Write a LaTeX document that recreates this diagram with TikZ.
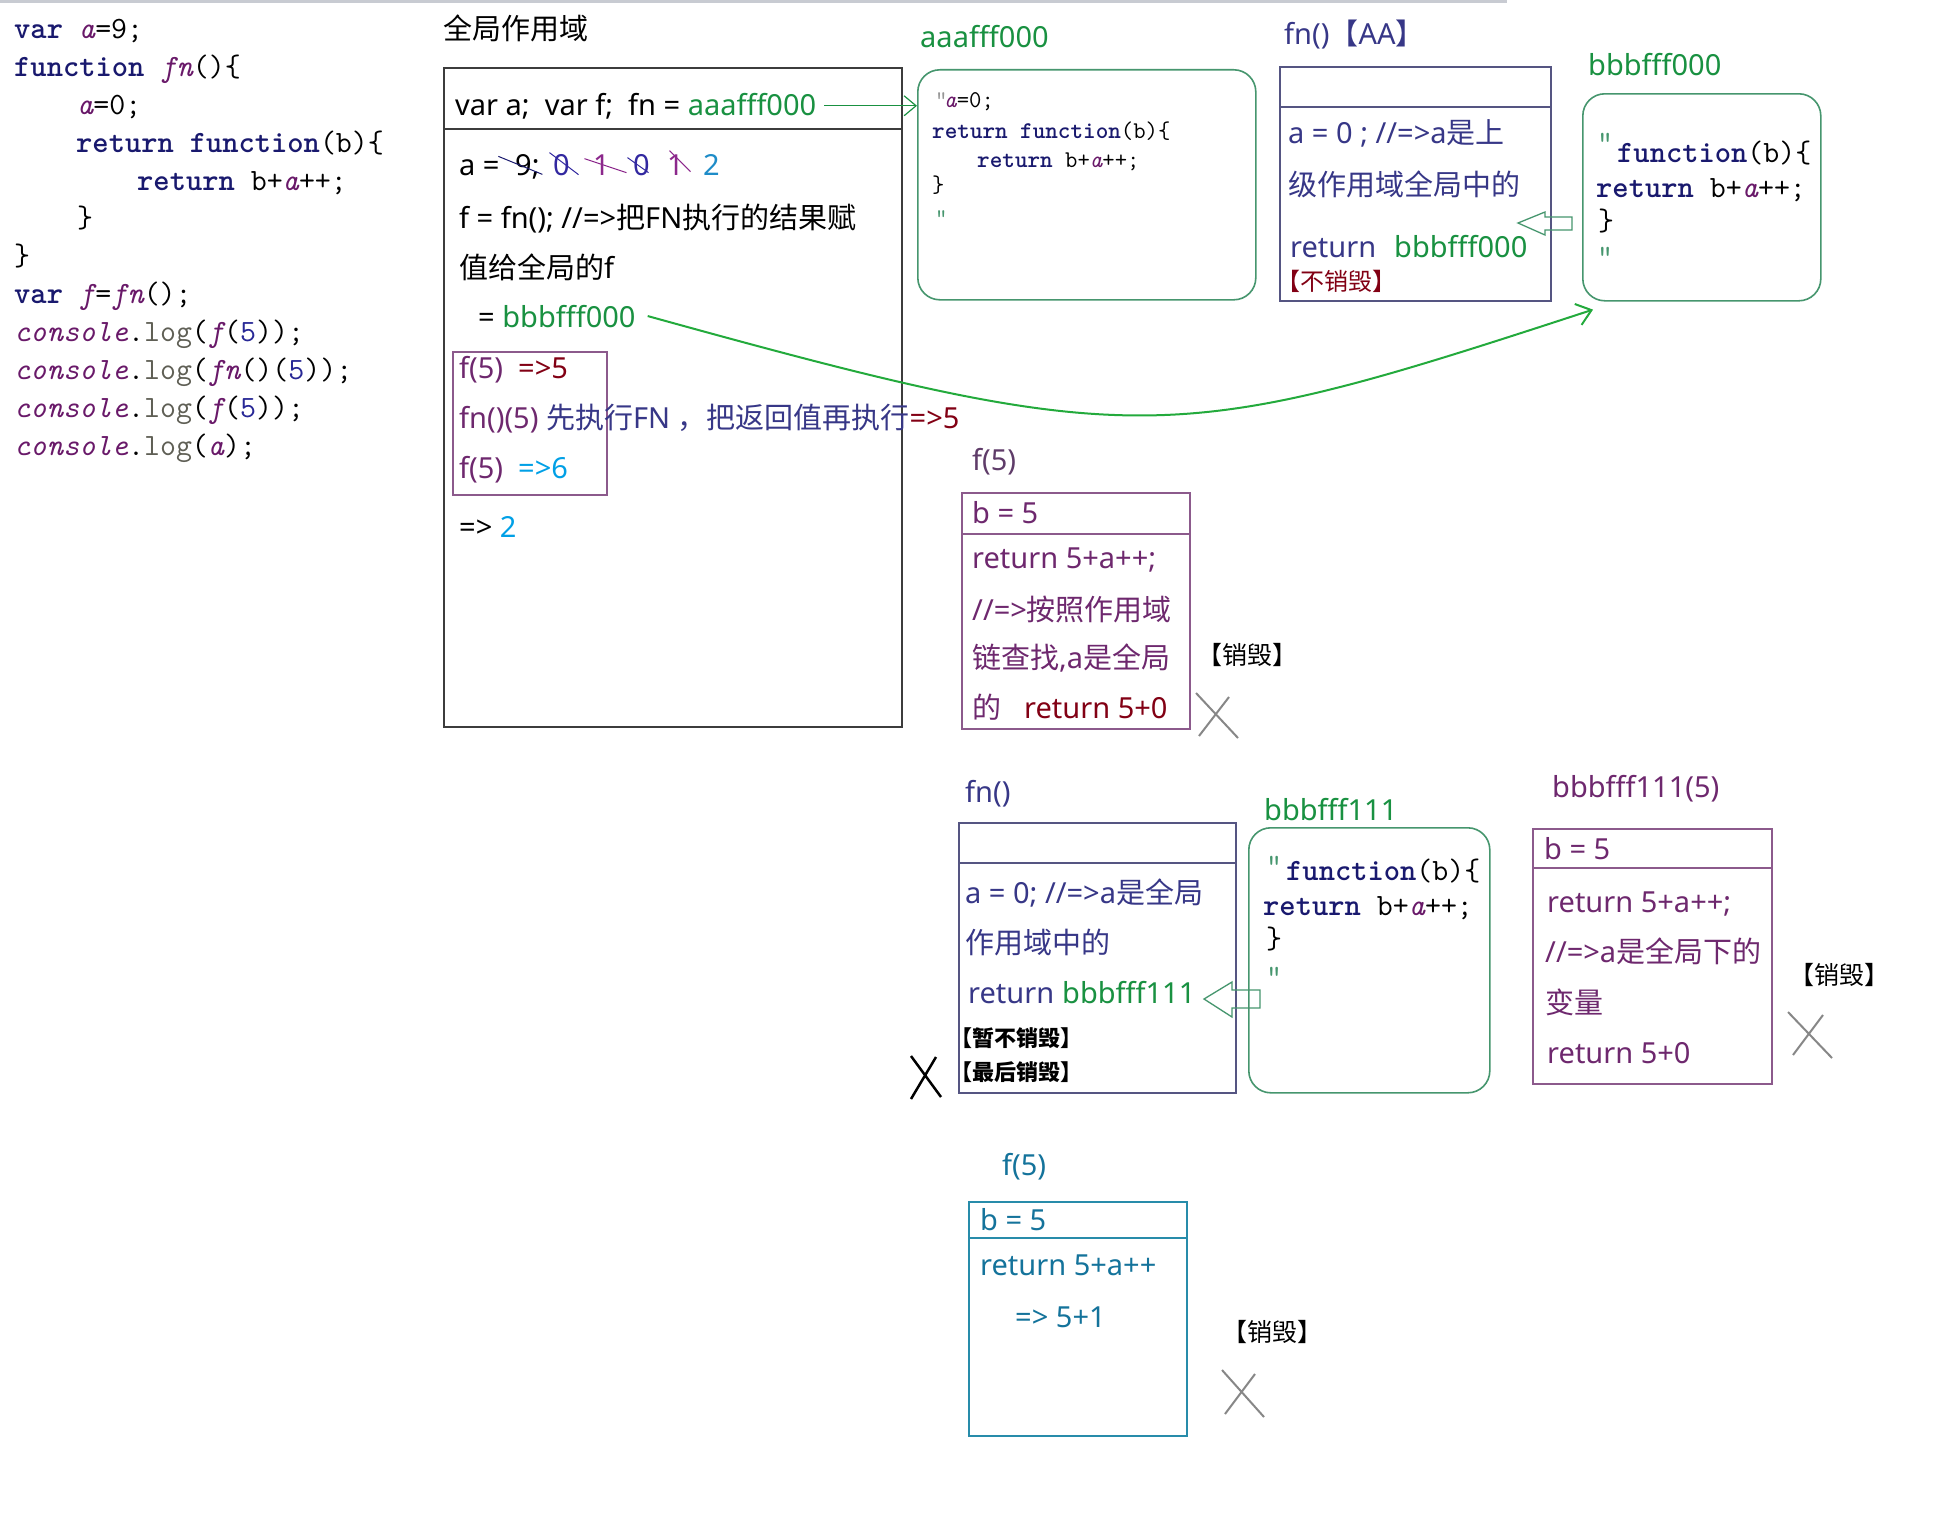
\documentclass[tikz,border=0pt]{standalone}
\usepackage{fontspec}
\usetikzlibrary{arrows.meta,calc}
\setmainfont{Noto Sans}
\newfontfamily\cjk{Noto Sans CJK SC}

\definecolor{kwnavy}{RGB}{25,25,110}
\definecolor{ivpurple}{RGB}{105,25,105}
\definecolor{logray}{RGB}{95,95,85}
\definecolor{numblue}{RGB}{40,40,150}
\definecolor{addrgreen}{RGB}{25,145,65}
\definecolor{curvegreen}{RGB}{35,170,60}
\definecolor{boxgreen}{RGB}{70,150,110}
\definecolor{fnnavy}{RGB}{55,55,135}
\definecolor{fnborder}{RGB}{85,85,130}
\definecolor{dred}{RGB}{130,0,20}
\definecolor{ptext}{RGB}{110,40,110}
\definecolor{pborder}{RGB}{140,90,140}
\definecolor{lblue}{RGB}{0,160,230}
\definecolor{tealtxt}{RGB}{20,115,155}
\definecolor{tealbox}{RGB}{40,140,170}
\definecolor{xgray}{RGB}{135,135,135}
\definecolor{topgray}{RGB}{200,203,210}
\definecolor{gborder}{RGB}{60,60,60}
\definecolor{dnavy}{RGB}{50,40,160}
\definecolor{dpurple}{RGB}{140,40,140}
\definecolor{dteal}{RGB}{30,140,200}
\definecolor{qgray}{RGB}{150,150,150}
\definecolor{lblpurple}{RGB}{95,60,105}

% code highlighting helpers
\newcommand\kwd[1]{{\bfseries\color{kwnavy}#1}}
\newcommand\ivar[1]{{\itshape\color{ivpurple}#1}}
\newcommand\logcall{{\color{logray}log}}
\newcommand\five{{\color{numblue}5}}
% Chinese runs
\newcommand\zh[1]{{\cjk#1}}

\begin{document}
\begin{tikzpicture}[x=1pt,y=-1pt,
  txt/.style={inner sep=0pt, anchor=base west},
  gt/.style={txt, font=\fontsize{29}{29}\selectfont},
  lbl/.style={txt, font=\fontsize{29}{29}\selectfont},
  killtag/.style={txt, font=\cjk\fontsize{25}{25}\selectfont, text=black},
  boldtag/.style={txt, font=\cjk\bfseries\fontsize{22}{22}\selectfont, text=black},
  codeL/.style={txt, font=\ttfamily\fontsize{31}{31}\selectfont},
  codeS/.style={txt, font=\ttfamily\fontsize{24}{24}\selectfont},
  frame/.style={draw, inner sep=0pt, anchor=north west, line width=1.6pt},
  heapbox/.style={frame, draw=boxgreen, rounded corners=22pt},
  strike/.style={line width=1pt},
  xmark/.style={xgray, line width=2pt},
  hollow/.style={boxgreen, line width=1.3pt, line join=miter},
]
\useasboundingbox (0,0) rectangle (1940,1512);
\fill[white] (0,0) rectangle (1940,1512);
\fill[topgray] (0,0) rectangle (1507,3);

% ---------------- source code ----------------
\node[codeL] (c1)  at (14,38)  {\kwd{var} \ivar{a}=9;};
\node[codeL] (c2)  at (14,76)  {\kwd{function} \ivar{fn}()\{};
\node[codeL] (c3)  at (77,114) {\ivar{a}=0;};
\node[codeL] (c4)  at (76,152) {\kwd{return} \kwd{function}(b)\{};
\node[codeL] (c5)  at (137,190) {\kwd{return} b+\ivar{a}++;};
\node[codeL] (c6)  at (77,227) {\}};
\node[codeL] (c7)  at (14,265) {\}};
\node[codeL] (c8)  at (14,303) {\kwd{var} \ivar{f}=\ivar{fn}();};
\node[codeL] (c9)  at (14,341) {\ivar{console}.\logcall(\ivar{f}(\five));};
\node[codeL] (c10) at (14,379) {\ivar{console}.\logcall(\ivar{fn}()(\five));};
\node[codeL] (c11) at (14,417) {\ivar{console}.\logcall(\ivar{f}(\five));};
\node[codeL] (c12) at (14,455) {\ivar{console}.\logcall(\ivar{a});};

% ---------------- global scope ----------------
\node[gt] (gtitle) at (443,40) {\zh{全局作用域}};
\node[frame, draw=gborder, line width=2pt, minimum width=458, minimum height=659] (gbox) at (443,67) {};
\draw[gborder, line width=1.6pt] ($(gbox.north west)+(0,62)$) -- ($(gbox.north east)+(0,62)$);

\node[gt] (gl1) at (455,115) {var a;\ \ var f;\ \ fn = {\color{addrgreen}aaafff000}};
\node[gt] (ga)  at (459,175) {a =};
\node[gt] (d9)  at (515,175) {9;};
\node[gt, text=dnavy]   (d0a) at (553,175) {0};
\node[gt, text=dpurple] (d1a) at (593,175) {1};
\node[gt, text=dnavy]   (d0b) at (633,175) {0};
\node[gt, text=dpurple] (d1b) at (667,175) {1};
\node[gt, text=dteal]   (d2)  at (703,175) {2};
\draw[strike, kwnavy]  ($(d9.center)+(-29,-10)$)  -- ($(d9.center)+(15,8)$);
\draw[strike, dnavy]   ($(d0a.center)+(-12,-12)$) -- ($(d0a.center)+(17,10)$);
\draw[strike, dpurple] ($(d1a.center)+(-17,-6)$)  -- ($(d1a.center)+(25,8)$);
\draw[strike, dnavy]   ($(d0b.center)+(-14,-7)$)  -- ($(d0b.center)+(7,8)$);
\draw[strike, dpurple] ($(d1b.center)+(-6,-14)$)  -- ($(d1b.center)+(15,7)$);

\node[gt] (gl3) at (459,228) {f = fn(); //=>\zh{把}FN\zh{执行的结果赋}};
\node[gt] (gl4) at (459,278) {\zh{值给全局的}f};
\node[gt] (gl5) at (478,327) {= {\color{addrgreen}bbbfff000}};

\node[frame, draw=pborder, line width=1.5pt, minimum width=154, minimum height=143] (pbox) at (452,351) {};
\node[gt, text=ptext] (p1) at (459,378) {f(5)\ \ {\color{dred}=>5}};
\node[gt, text=ptext] (p2) at (459,428) {fn()(5) {\color{fnnavy}\zh{先执行}FN\ \zh{，把返回值再执行}}{\color{dred}=>5}};
\node[gt, text=ptext] (p3) at (459,478) {f(5)\ \ {\color{lblue}=>6}};
\node[gt] (p4) at (459,537) {=> {\color{lblue}2}};

% ---------------- heap aaafff000 ----------------
\node[lbl, text=addrgreen] (aaalbl) at (920,48) {aaafff000};
\node[heapbox, minimum width=338, minimum height=230] (aaabox) at (917,69) {};
\node[codeS, text=qgray] (aq1) at (935,107) {"};
\node[codeS] (a1)  at (944,107) {\ivar{a}=0;};
\node[codeS] (a2)  at (932,138) {\kwd{return} \kwd{function}(b)\{};
\node[codeS] (a3)  at (977,167) {\kwd{return} b+\ivar{a}++;};
\node[codeS] (a4)  at (932,192) {\}};
\node[codeS, text=boxgreen] (aq2) at (935,225) {"};
\draw[addrgreen, line width=1.2pt, shorten <=8pt, -{Straight Barb[length=12pt,width=20pt]}]
  (gl1.east) -- (gl1.east -| aaabox.west);

% ---------------- fn() [AA] ----------------
\node[lbl, text=fnnavy] (aalbl) at (1284,45) {fn()\zh{【}AA\zh{】}};
\node[frame, draw=fnborder, minimum width=271, minimum height=234] (aabox) at (1279,66) {};
\draw[fnborder, line width=1.6pt] ($(aabox.north west)+(0,41)$) -- ($(aabox.north east)+(0,41)$);
\node[gt, text=fnnavy] (aa1) at (1288,143) {a = 0 ; //=>a\zh{是上}};
\node[gt, text=fnnavy] (aa2) at (1288,195) {\zh{级作用域全局中的}};
\node[gt, text=fnnavy] (aa3) at (1290,257) {return};
\node[gt, text=addrgreen] (aa4) at (1394,257) {bbbfff000};
\node[txt, font=\cjk\fontsize{24}{24}\selectfont, text=dred] (aa5) at (1276,290) {【不销毁】};

% ---------------- heap bbbfff000 ----------------
\node[lbl, text=addrgreen] (bbblbl) at (1588,75) {bbbfff000};
\node[heapbox, minimum width=238, minimum height=207] (bbbbox) at (1582,93) {};
\node[codeL, text=boxgreen] (bq1) at (1597,152) {"};
\node[codeL] (b1) at (1617,162) {\kwd{function}(b)\{};
\node[codeL] (b2) at (1596,197) {\kwd{return} b+\ivar{a}++;};
\node[codeL] (b3) at (1598,230) {\}};
\node[codeL, text=boxgreen] (bq2) at (1597,266) {"};

\coordinate (h1) at (1518,223);
\draw[hollow] (h1) -- ++(27,-11) -- ++(0,5) -- ++(27,0) -- ++(0,13) -- ++(-27,0) -- ++(0,5) -- cycle;

% f is bound to the returned function
\draw[curvegreen, line width=2pt, -{Straight Barb[length=14pt,width=22pt]}]
  ($(gl5.east)+(12,0)$) .. controls (1139,452) and (1173,447) .. ($(bbbbox.south west)+(11,8)$);

% ---------------- first f(5) ----------------
\node[lbl, text=lblpurple] (f1lbl) at (972,470) {f(5)};
\node[frame, draw=pborder, minimum width=228, minimum height=236] (f1box) at (961,492) {};
\draw[pborder, line width=1.6pt] ($(f1box.north west)+(0,42)$) -- ($(f1box.north east)+(0,42)$);
\node[gt, text=ptext] (f1a) at (972,523) {b = 5};
\node[gt, text=ptext] (f1b) at (972,568) {return 5+a++;};
\node[gt, text=ptext] (f1c) at (972,620) {//=>\zh{按照作用域}};
\node[gt, text=ptext] (f1d) at (972,668) {\zh{链查找},a\zh{是全局}};
\node[gt, text=ptext] (f1e) at (972,718) {\zh{的}};
\node[gt, text=dred]  (f1f) at (1024,718) {return 5+0};
\node[killtag] (k1) at (1197,664) {【销毁】};
\draw[xmark] (1196,693) -- (1238,738) (1199,736) -- (1229,697);

% ---------------- fn() second call ----------------
\node[lbl, text=fnnavy] (f2lbl) at (965,802) {fn()};
\node[frame, draw=fnborder, minimum width=277, minimum height=270] (f2box) at (958,822) {};
\draw[fnborder, line width=1.6pt] ($(f2box.north west)+(0,41)$) -- ($(f2box.north east)+(0,41)$);
\node[gt, text=fnnavy] (f2a) at (965,903) {a = 0; //=>a\zh{是全局}};
\node[gt, text=fnnavy] (f2b) at (965,953) {\zh{作用域中的}};
\node[gt, text=fnnavy] (f2c) at (968,1003) {return};
\node[gt, text=addrgreen] (f2d) at (1062,1003) {bbbfff111};
\node[boldtag] (f2e) at (950,1046) {【暂不销毁】};
\node[boldtag] (f2f) at (950,1080) {【最后销毁】};
\draw[black, line width=2.5pt] (911,1056) -- (941,1097) (911,1099) -- (936,1057);

\coordinate (h2) at (1204,999);
\draw[hollow] (h2) -- ++(28,-17) -- ++(0,8) -- ++(28,0) -- ++(0,18) -- ++(-28,0) -- ++(0,9) -- cycle;

% ---------------- heap bbbfff111 ----------------
\node[lbl, text=addrgreen] (b11lbl) at (1264,820) {bbbfff111};
\node[heapbox, minimum width=241, minimum height=265] (b111box) at (1248,827) {};
\node[codeL, text=boxgreen] (b11q1) at (1266,875) {"};
\node[codeL] (b11a) at (1286,880) {\kwd{function}(b)\{};
\node[codeL] (b11b) at (1263,915) {\kwd{return} b+\ivar{a}++;};
\node[codeL] (b11c) at (1266,948) {\}};
\node[codeL, text=boxgreen] (b11q2) at (1266,986) {"};

% ---------------- bbbfff111(5) ----------------
\node[lbl, text=ptext] (c5lbl) at (1552,797) {bbbfff111(5)};
\node[frame, draw=pborder, minimum width=239, minimum height=255] (c5box) at (1532,828) {};
\draw[pborder, line width=1.6pt] ($(c5box.north west)+(0,40)$) -- ($(c5box.north east)+(0,40)$);
\node[gt, text=ptext] (c5a) at (1544,859) {b = 5};
\node[gt, text=ptext] (c5b) at (1547,912) {return 5+a++;};
\node[gt, text=ptext] (c5c) at (1545,962) {//=>a\zh{是全局下的}};
\node[gt, text=ptext] (c5d) at (1545,1013) {\zh{变量}};
\node[gt, text=ptext] (c5e) at (1547,1063) {return 5+0};
\node[killtag] (k2) at (1789,984) {【销毁】};
\draw[xmark] (1788,1012) -- (1832,1058) (1793,1055) -- (1823,1015);

% ---------------- last f(5) ----------------
\node[lbl, text=tealtxt] (f3lbl) at (1002,1175) {f(5)};
\node[frame, draw=tealbox, minimum width=218, minimum height=234] (f3box) at (968,1201) {};
\draw[tealbox, line width=1.6pt] ($(f3box.north west)+(0,37)$) -- ($(f3box.north east)+(0,37)$);
\node[gt, text=tealtxt] (f3a) at (980,1230) {b = 5};
\node[gt, text=tealtxt] (f3b) at (980,1275) {return 5+a++};
\node[gt, text=tealtxt] (f3c) at (1015,1327) {=> 5+1};
\node[killtag] (k3) at (1222,1341) {【销毁】};
\draw[xmark] (1222,1370) -- (1264,1417) (1225,1414) -- (1255,1374);
\end{tikzpicture}
\end{document}
